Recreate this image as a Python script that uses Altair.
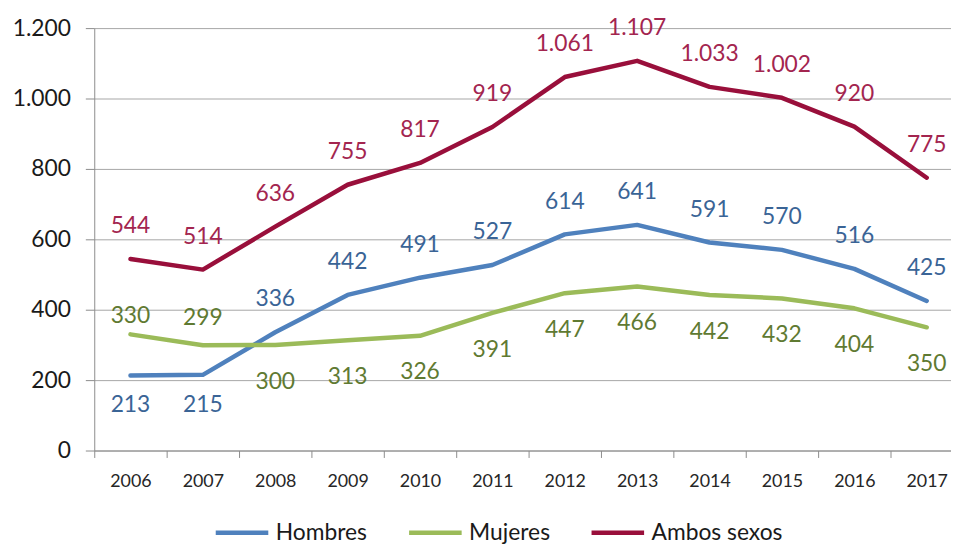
import altair as alt
import pandas as pd

# ---- data ----
years = ["2006", "2007", "2008", "2009", "2010", "2011",
         "2012", "2013", "2014", "2015", "2016", "2017"]
hombres = [213, 215, 336, 442, 491, 527, 614, 641, 591, 570, 516, 425]
mujeres = [330, 299, 300, 313, 326, 391, 447, 466, 442, 432, 404, 350]
ambos = [544, 514, 636, 755, 817, 919, 1061, 1107, 1033, 1002, 920, 775]
series = ["Hombres", "Mujeres", "Ambos sexos"]

# ---- style ----
line_colors = ["#4f81bd", "#9bbb59", "#990f3b"]
label_colors = ["#3a6496", "#5f7a32", "#a3254f"]
# pixel offsets of the value labels from their points (placement style)
label_dy = {
    "Hombres": [30, 30] + [-33] * 10,
    "Mujeres": [-18, -27] + [37] * 10,
    "Ambos sexos": [-33] * 12,
}
FONT = "Lato"

rows = []
for name, vals in zip(series, [hombres, mujeres, ambos]):
    for i, (y, v) in enumerate(zip(years, vals)):
        rows.append({
            "year": y,
            "serie": name,
            "value": v,
            "label": f"{v:,}".replace(",", "."),
            "dy": label_dy[name][i],
        })
df = pd.DataFrame(rows)

x_enc = alt.X(
    "year:N",
    sort=years,
    bandPosition=0.5,
    scale=alt.Scale(type="band", domain=years, range=[0, 876],
                    paddingInner=0, paddingOuter=0),
    axis=alt.Axis(
        title=None, labelAngle=0, tickBand="extent", grid=False,
        tickSize=7, tickColor="#8c8c8c", domainColor="#8c8c8c",
        labelFont=FONT, labelFontSize=18, labelColor="#262626",
        labelPadding=15,
    ),
)
y_enc = alt.Y(
    "value:Q",
    scale=alt.Scale(domain=[0, 1200], nice=False),
    axis=alt.Axis(
        title=None, values=[0, 200, 400, 600, 800, 1000, 1200],
        labelExpr="replace(format(datum.value, ','), ',', '.')",
        tickSize=9, tickColor="#8c8c8c", domainColor="#8c8c8c",
        gridColor="#a6a6a6", labelFont=FONT, labelFontSize=23,
        labelColor="#1a1a1a", labelPadding=15,
    ),
)

base = alt.Chart(df)

lines = base.mark_line(strokeWidth=4.5, strokeCap="round", strokeJoin="round").encode(
    x=x_enc,
    y=y_enc,
    color=alt.Color(
        "serie:N",
        sort=series,
        scale=alt.Scale(domain=series, range=line_colors),
        legend=alt.Legend(
            title=None, orient="none", legendX=120, legendY=480,
            direction="horizontal", symbolType="stroke", symbolSize=2809,
            symbolStrokeWidth=4.5, labelFont=FONT, labelFontSize=23,
            labelColor="#1a1a1a", columnPadding=32, labelOffset=5,
        ),
    ),
    detail="serie:N",
)

label_layers = []
for off in sorted(set(df["dy"])):
    label_layers.append(
        base.transform_filter(alt.datum.dy == int(off))
        .mark_text(font=FONT, fontSize=23, baseline="middle", align="center", dy=int(off))
        .encode(
            x=x_enc,
            y=y_enc,
            text="label:N",
            color=alt.Color(
                "serie:N",
                scale=alt.Scale(domain=series, range=label_colors),
                legend=None,
            ),
        )
    )

chart = (
    alt.layer(lines, *label_layers)
    .resolve_scale(color="independent")
    .properties(
        width=864,
        height=426,
        autosize=alt.AutoSizeParams(type="none"),
        padding={"left": 87, "top": 18, "right": 0, "bottom": 94},
        background="white",
    )
    .configure_view(stroke=None)
)

chart.save("out.html", embed_options={"renderer": "svg", "actions": False})
